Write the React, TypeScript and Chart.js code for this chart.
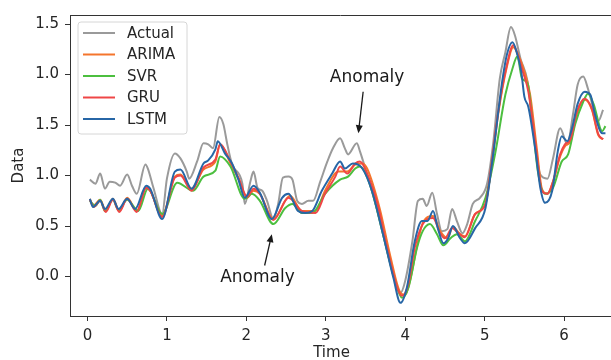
import React, { useEffect, useRef } from "react";
import { Chart, registerables } from "chart.js";

Chart.register(...registerables);

// ---- data (time, value) ----
const actualT = [0.03,0.10,0.16,0.22,0.28,0.35,0.41,0.50,0.56,0.62,0.73,0.76,0.83,0.94,1.00,1.10,1.17,1.25,1.28,1.38,1.46,1.52,1.58,1.66,1.71,1.76,1.82,1.95,1.98,2.05,2.09,2.14,2.20,2.26,2.34,2.40,2.46,2.53,2.58,2.64,2.70,2.78,2.84,2.93,3.02,3.09,3.18,3.24,3.28,3.39,3.43,3.52,3.65,3.77,3.87,3.94,4.00,4.09,4.16,4.22,4.27,4.34,4.40,4.46,4.53,4.59,4.65,4.72,4.78,4.85,4.94,5.03,5.11,5.19,5.26,5.33,5.38,5.45,5.54,5.61,5.70,5.79,5.86,5.95,6.04,6.11,6.17,6.24,6.30,6.37,6.43,6.49];
const actualV = [0.96,0.92,1.02,0.87,0.94,0.93,0.90,1.01,0.90,0.82,1.11,1.07,0.88,0.62,0.97,1.22,1.17,1.04,0.97,1.14,1.32,1.31,1.27,1.58,1.51,1.31,1.11,0.92,0.72,0.94,1.04,0.88,0.85,0.75,0.57,0.72,0.98,0.99,0.96,0.75,0.72,0.75,0.75,0.94,1.14,1.27,1.37,1.27,1.21,1.32,1.24,1.01,0.65,0.26,-0.04,-0.16,-0.04,0.35,0.75,0.77,0.70,0.83,0.62,0.45,0.47,0.67,0.55,0.43,0.52,0.72,0.78,0.92,1.34,1.96,2.22,2.47,2.39,2.16,1.93,1.47,1.01,0.97,1.17,1.47,1.31,1.60,1.90,1.98,1.86,1.66,1.54,1.65];

const arimaT = [0.03,0.07,0.16,0.23,0.32,0.40,0.50,0.62,0.74,0.79,0.94,1.10,1.17,1.31,1.46,1.61,1.67,1.80,1.90,2.01,2.09,2.17,2.34,2.55,2.70,2.87,2.99,3.16,3.27,3.37,3.46,3.52,3.68,3.81,3.94,4.00,4.06,4.15,4.22,4.35,4.44,4.53,4.60,4.69,4.75,4.88,5.01,5.09,5.17,5.28,5.36,5.42,5.50,5.57,5.66,5.72,5.79,5.86,5.95,6.01,6.08,6.16,6.26,6.35,6.43,6.49];
const arimaV = [0.77,0.70,0.76,0.65,0.77,0.65,0.78,0.65,0.88,0.85,0.60,0.99,1.01,0.87,1.06,1.14,1.31,1.12,0.97,0.78,0.85,0.82,0.57,0.80,0.65,0.65,0.85,1.04,1.04,1.11,1.12,1.07,0.67,0.21,-0.16,-0.18,-0.04,0.31,0.53,0.60,0.45,0.38,0.49,0.42,0.40,0.62,0.72,1.12,1.61,2.08,2.27,2.20,2.03,1.81,1.24,0.87,0.82,0.94,1.19,1.29,1.34,1.61,1.75,1.65,1.40,1.36];

const svrT = [0.03,0.10,0.16,0.22,0.32,0.39,0.50,0.64,0.76,0.94,1.13,1.33,1.46,1.61,1.67,1.80,1.98,2.07,2.17,2.34,2.49,2.58,2.70,2.83,2.99,3.18,3.28,3.37,3.43,3.56,3.72,3.87,3.96,4.04,4.15,4.22,4.31,4.40,4.48,4.57,4.65,4.75,4.88,5.01,5.13,5.26,5.35,5.41,5.47,5.54,5.60,5.67,5.76,5.86,5.97,6.05,6.14,6.24,6.30,6.37,6.48,6.52];
const svrV = [0.75,0.70,0.76,0.65,0.76,0.66,0.76,0.65,0.87,0.62,0.93,0.85,0.99,1.05,1.19,1.09,0.77,0.82,0.75,0.52,0.68,0.72,0.63,0.63,0.82,0.96,0.99,1.07,1.09,0.90,0.42,-0.04,-0.21,-0.11,0.29,0.45,0.52,0.42,0.31,0.38,0.42,0.35,0.55,0.78,1.21,1.80,2.06,2.18,1.96,1.91,1.54,1.04,0.82,0.88,1.14,1.21,1.51,1.73,1.81,1.71,1.44,1.49];

const gruT = [0.03,0.08,0.16,0.23,0.32,0.40,0.50,0.62,0.74,0.79,0.94,1.10,1.17,1.31,1.46,1.61,1.67,1.80,1.90,2.01,2.09,2.17,2.34,2.53,2.70,2.87,2.99,3.12,3.18,3.27,3.37,3.43,3.52,3.65,3.77,3.90,3.96,4.04,4.12,4.22,4.28,4.35,4.44,4.50,4.59,4.67,4.75,4.88,5.01,5.09,5.17,5.28,5.36,5.42,5.48,5.55,5.64,5.72,5.79,5.86,5.95,6.01,6.08,6.16,6.26,6.35,6.43,6.49];
const gruV = [0.76,0.69,0.75,0.64,0.76,0.64,0.77,0.64,0.88,0.85,0.59,0.98,1.00,0.85,1.08,1.16,1.31,1.14,0.98,0.79,0.87,0.82,0.56,0.78,0.65,0.63,0.82,0.99,1.09,1.02,1.12,1.14,1.02,0.72,0.29,-0.11,-0.19,-0.07,0.29,0.52,0.57,0.58,0.43,0.38,0.48,0.43,0.39,0.62,0.72,1.14,1.63,2.10,2.29,2.19,2.03,1.83,1.31,0.85,0.82,0.94,1.21,1.31,1.36,1.63,1.76,1.66,1.41,1.36];

const lstmT = [0.03,0.07,0.16,0.22,0.32,0.39,0.50,0.60,0.74,0.79,0.94,1.10,1.17,1.31,1.46,1.52,1.61,1.64,1.73,1.82,1.90,1.98,2.09,2.17,2.32,2.45,2.53,2.65,2.74,2.83,2.95,3.08,3.18,3.24,3.34,3.46,3.58,3.72,3.85,3.94,4.02,4.12,4.21,4.28,4.35,4.41,4.48,4.54,4.60,4.69,4.75,4.88,5.01,5.09,5.22,5.28,5.35,5.41,5.46,5.50,5.55,5.64,5.70,5.76,5.85,5.92,5.97,6.04,6.10,6.17,6.26,6.33,6.39,6.48,6.52];
const lstmV = [0.77,0.69,0.75,0.67,0.77,0.67,0.77,0.67,0.90,0.87,0.57,1.04,1.06,0.87,1.12,1.15,1.26,1.34,1.22,1.12,0.96,0.78,0.90,0.83,0.57,0.78,0.82,0.65,0.63,0.65,0.85,1.02,1.14,1.07,1.12,1.07,0.85,0.42,-0.01,-0.26,-0.11,0.35,0.55,0.55,0.65,0.48,0.33,0.38,0.50,0.38,0.33,0.48,0.68,1.11,1.93,2.20,2.32,2.20,2.03,1.78,1.68,1.24,0.88,0.73,0.85,1.24,1.39,1.34,1.47,1.71,1.83,1.80,1.60,1.42,1.42];

const seriesNames = ["Actual", "ARIMA", "SVR", "GRU", "LSTM"];
const seriesColors = ["#9a9a9a", "#f4752c", "#4cbf3f", "#ef4646", "#2766a6"];

const xTickValues = [0, 1, 2, 3, 4, 5, 6];
const yTickValues = [0, 0.5, 1.0, 1.5, 2.0, 2.5];
const yTickLabels = ["0.0", "0.5", "1.0", "1.5", "1.0", "1.5"];
const xAxisTitle = "Time";
const yAxisTitle = "Data";

const annotationTexts = ["Anomaly", "Anomaly"];
const annotationTextPos = [[3.52, 1.97], [2.14, -0.01]];
const annotationArrowTail = [[3.47, 1.83], [2.23, 0.11]];
const annotationArrowHead = [[3.41, 1.42], [2.32, 0.42]];

const FONT = "'DejaVu Sans', sans-serif";
const TEXT = "#262626";
const SPINE = "#333333";

function pts(t: number[], v: number[]) {
  return t.map((x, i) => ({ x, y: v[i] }));
}

const framePlugin = {
  id: "frameAndExtras",
  afterDraw(chart: any) {
    const { ctx, chartArea, scales } = chart;
    const xs = scales.x;
    const ys = scales.y;
    ctx.save();
    // top spine
    ctx.strokeStyle = SPINE;
    ctx.lineWidth = 1;
    ctx.beginPath();
    ctx.moveTo(chartArea.left, chartArea.top + 0.5);
    ctx.lineTo(chartArea.right, chartArea.top + 0.5);
    ctx.stroke();

    // x axis title
    ctx.fillStyle = TEXT;
    ctx.font = `15px ${FONT}`;
    ctx.textAlign = "center";
    ctx.textBaseline = "middle";
    ctx.fillText(xAxisTitle, (chartArea.left + chartArea.right) / 2 - 9, chart.height - 7);

    // annotations
    ctx.fillStyle = "#1a1a1a";
    ctx.strokeStyle = "#1a1a1a";
    ctx.font = `17px ${FONT}`;
    annotationTexts.forEach((txt, i) => {
      const tx = xs.getPixelForValue(annotationTextPos[i][0]);
      const ty = ys.getPixelForValue(annotationTextPos[i][1]);
      ctx.fillText(txt, tx, ty);
      const ax = xs.getPixelForValue(annotationArrowTail[i][0]);
      const ay = ys.getPixelForValue(annotationArrowTail[i][1]);
      const bx = xs.getPixelForValue(annotationArrowHead[i][0]);
      const by = ys.getPixelForValue(annotationArrowHead[i][1]);
      const ang = Math.atan2(by - ay, bx - ax);
      const hl = 8, hw = 3.5;
      ctx.lineWidth = 1.3;
      ctx.beginPath();
      ctx.moveTo(ax, ay);
      ctx.lineTo(bx - Math.cos(ang) * hl * 0.6, by - Math.sin(ang) * hl * 0.6);
      ctx.stroke();
      ctx.beginPath();
      ctx.moveTo(bx, by);
      ctx.lineTo(bx - Math.cos(ang) * hl - Math.sin(ang) * hw, by - Math.sin(ang) * hl + Math.cos(ang) * hw);
      ctx.lineTo(bx - Math.cos(ang) * hl + Math.sin(ang) * hw, by - Math.sin(ang) * hl - Math.cos(ang) * hw);
      ctx.closePath();
      ctx.fill();
    });

    // legend
    const lx = chartArea.left + 8;
    const ly = chartArea.top + 7;
    const lw = 109;
    const lh = 112;
    ctx.beginPath();
    const r = 3;
    ctx.moveTo(lx + r, ly);
    ctx.lineTo(lx + lw - r, ly);
    ctx.quadraticCurveTo(lx + lw, ly, lx + lw, ly + r);
    ctx.lineTo(lx + lw, ly + lh - r);
    ctx.quadraticCurveTo(lx + lw, ly + lh, lx + lw - r, ly + lh);
    ctx.lineTo(lx + r, ly + lh);
    ctx.quadraticCurveTo(lx, ly + lh, lx, ly + lh - r);
    ctx.lineTo(lx, ly + r);
    ctx.quadraticCurveTo(lx, ly, lx + r, ly);
    ctx.closePath();
    ctx.fillStyle = "rgba(255,255,255,0.85)";
    ctx.fill();
    ctx.strokeStyle = "#d6d6d6";
    ctx.lineWidth = 1;
    ctx.stroke();
    ctx.font = `15px ${FONT}`;
    ctx.textAlign = "left";
    ctx.textBaseline = "middle";
    chart.data.datasets.forEach((ds: any, i: number) => {
      const y = ly + 11 + i * 21.5;
      ctx.strokeStyle = ds.borderColor;
      ctx.lineWidth = 2;
      ctx.beginPath();
      ctx.moveTo(lx + 5, y);
      ctx.lineTo(lx + 37, y);
      ctx.stroke();
      ctx.fillStyle = TEXT;
      ctx.fillText(ds.label, lx + 49, y + 1);
    });
    ctx.restore();
  },
};

export default function App() {
  const ref = useRef<HTMLCanvasElement | null>(null);
  useEffect(() => {
    if (!ref.current) return;
    const all = [
      pts(actualT, actualV),
      pts(arimaT, arimaV),
      pts(svrT, svrV),
      pts(gruT, gruV),
      pts(lstmT, lstmV),
    ];
    const chart = new Chart(ref.current, {
      type: "line",
      data: {
        datasets: all.map((d, i) => ({
          label: seriesNames[i],
          data: d,
          borderColor: seriesColors[i],
          backgroundColor: seriesColors[i],
          borderWidth: 2,
          pointRadius: 0,
          cubicInterpolationMode: "monotone" as const,
          order: seriesNames.length - i,
        })),
      },
      options: {
        animation: false,
        responsive: false,
        devicePixelRatio: 1,
        layout: { padding: { left: 0, top: 13, right: 0, bottom: 0 } },
        plugins: { legend: { display: false }, tooltip: { enabled: false } },
        scales: {
          x: {
            type: "linear",
            min: -0.22,
            max: 6.59,
            afterBuildTicks: (s: any) => {
              s.ticks = xTickValues.map((v) => ({ value: v }));
            },
            afterFit: (s: any) => {
              s.height = 44;
            },
            ticks: {
              color: TEXT,
              font: { family: FONT, size: 15 },
              padding: 6,
              maxRotation: 0,
              callback: (v: any) => String(v),
            },
            grid: { drawOnChartArea: false, drawTicks: true, tickLength: 5, tickColor: SPINE, tickWidth: 1 },
            border: { display: true, color: SPINE, width: 1 },
            title: { display: false },
          },
          y: {
            type: "linear",
            min: -0.39,
            max: 2.59,
            afterBuildTicks: (s: any) => {
              s.ticks = yTickValues.map((v) => ({ value: v }));
            },
            afterFit: (s: any) => {
              s.width = 70;
            },
            ticks: {
              color: TEXT,
              font: { family: FONT, size: 15 },
              padding: 6,
              callback: (v: any) => {
                const idx = yTickValues.findIndex((t) => Math.abs(t - Number(v)) < 1e-6);
                return idx >= 0 ? yTickLabels[idx] : "";
              },
            },
            grid: { drawOnChartArea: false, drawTicks: true, tickLength: 5, tickColor: SPINE, tickWidth: 1 },
            border: { display: true, color: SPINE, width: 1 },
            title: { display: true, text: yAxisTitle, color: TEXT, font: { family: FONT, size: 15 }, padding: { top: 10, bottom: 0 } },
          },
        },
      },
      plugins: [framePlugin],
    });
    return () => chart.destroy();
  }, []);
  return (
    <div style={{ position: "fixed", left: 0, top: 0, width: 611, height: 360, background: "#fff" }}>
      <canvas ref={ref} width={611} height={360} style={{ display: "block", width: 611, height: 360 }} />
    </div>
  );
}
